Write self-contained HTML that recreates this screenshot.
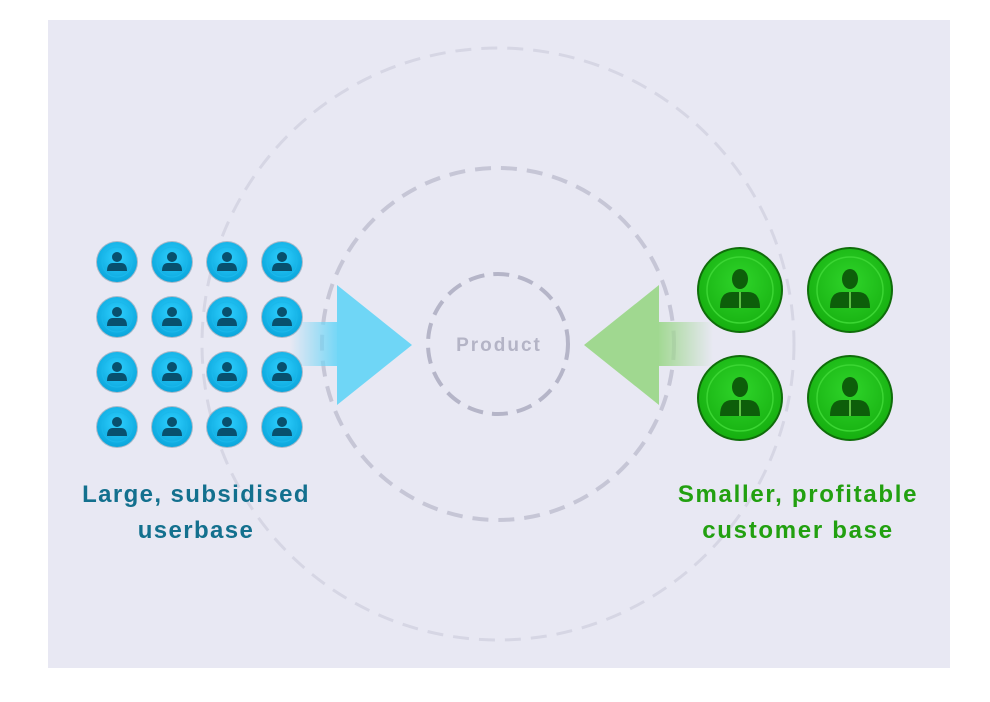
<!DOCTYPE html>
<html><head><style>
body{margin:0;background:#fff;}
</style></head><body>
<svg width="990" height="702" viewBox="0 0 990 702" xmlns="http://www.w3.org/2000/svg" style="display:block">
<defs>
<radialGradient id="bg" cx="50%" cy="40%" r="60%"><stop offset="0" stop-color="#2fd0ff"/><stop offset="1" stop-color="#0aa6dc"/></radialGradient>
<radialGradient id="gg" cx="50%" cy="40%" r="60%"><stop offset="0" stop-color="#2fd42a"/><stop offset="1" stop-color="#16b010"/></radialGradient>
<linearGradient id="bt" x1="0" x2="1"><stop offset="0" stop-color="#6fd6f6" stop-opacity="0"/><stop offset="1" stop-color="#6fd6f6"/></linearGradient>
<linearGradient id="gt" x1="1" x2="0"><stop offset="0" stop-color="#a0d890" stop-opacity="0"/><stop offset="1" stop-color="#a0d890"/></linearGradient>
<g id="bu">
<circle r="21" fill="#6a8aa0" opacity="0.5"/>
<circle r="20" fill="url(#bg)"/>
<circle r="15" fill="none" stroke="#1bb8ea" stroke-width="1"/>
<circle cx="0" cy="-5" r="5" fill="#08506e"/>
<path d="M-10 9 Q-10 1 -4 1 L4 1 Q10 1 10 9 Z" fill="#08506e"/>
</g>
<g id="gu">
<circle r="43" fill="#0f6d0a"/>
<circle r="41" fill="url(#gg)"/>
<circle r="33" fill="none" stroke="#3bd633" stroke-width="1.5"/>
<ellipse cx="0" cy="-11" rx="8" ry="10" fill="#0d5e0a"/>
<path d="M-20 18 Q-20 2 -8 2 L8 2 Q20 2 20 18 Z" fill="#0d5e0a"/>
<line x1="0" y1="2" x2="0" y2="18" stroke="#7ce05a" stroke-width="1.5"/>
</g>
</defs>
<rect x="48" y="20" width="902" height="648" fill="#e8e8f3"/>
<circle cx="498" cy="344" r="296" fill="none" stroke="#d6d6e4" stroke-width="3" stroke-dasharray="16 10"/>
<circle cx="498" cy="344" r="176" fill="none" stroke="#c6c6d6" stroke-width="4" stroke-dasharray="16 10"/>
<circle cx="498" cy="344" r="70" fill="none" stroke="#b5b5c8" stroke-width="4" stroke-dasharray="16 9"/>
<text x="499" y="351" text-anchor="middle" font-family="Liberation Sans, sans-serif" font-size="19" font-weight="bold" letter-spacing="2" fill="#b4b4c6">Product</text>
<rect x="290" y="322" width="50" height="44" fill="url(#bt)"/>
<polygon points="337,285 412,345 337,405" fill="#6fd6f6"/>
<rect x="657" y="322" width="56" height="44" fill="url(#gt)"/>
<polygon points="659,285 584,345 659,405" fill="#a0d890"/>
<g>
<use href="#bu" x="117" y="262"/><use href="#bu" x="172" y="262"/><use href="#bu" x="227" y="262"/><use href="#bu" x="282" y="262"/>
<use href="#bu" x="117" y="317"/><use href="#bu" x="172" y="317"/><use href="#bu" x="227" y="317"/><use href="#bu" x="282" y="317"/>
<use href="#bu" x="117" y="372"/><use href="#bu" x="172" y="372"/><use href="#bu" x="227" y="372"/><use href="#bu" x="282" y="372"/>
<use href="#bu" x="117" y="427"/><use href="#bu" x="172" y="427"/><use href="#bu" x="227" y="427"/><use href="#bu" x="282" y="427"/>
</g>
<use href="#gu" x="740" y="290"/><use href="#gu" x="850" y="290"/>
<use href="#gu" x="740" y="398"/><use href="#gu" x="850" y="398"/>
<g font-family="Liberation Sans, sans-serif" font-size="24" font-weight="bold" text-anchor="middle" letter-spacing="1.4">
<text x="196" y="502" fill="#13708e">Large, subsidised</text>
<text x="196" y="538" fill="#13708e">userbase</text>
<text x="798" y="502" fill="#22a010" letter-spacing="1.7">Smaller, profitable</text>
<text x="798" y="538" fill="#22a010" letter-spacing="1.7">customer base</text>
</g>
</svg>
</body></html>
